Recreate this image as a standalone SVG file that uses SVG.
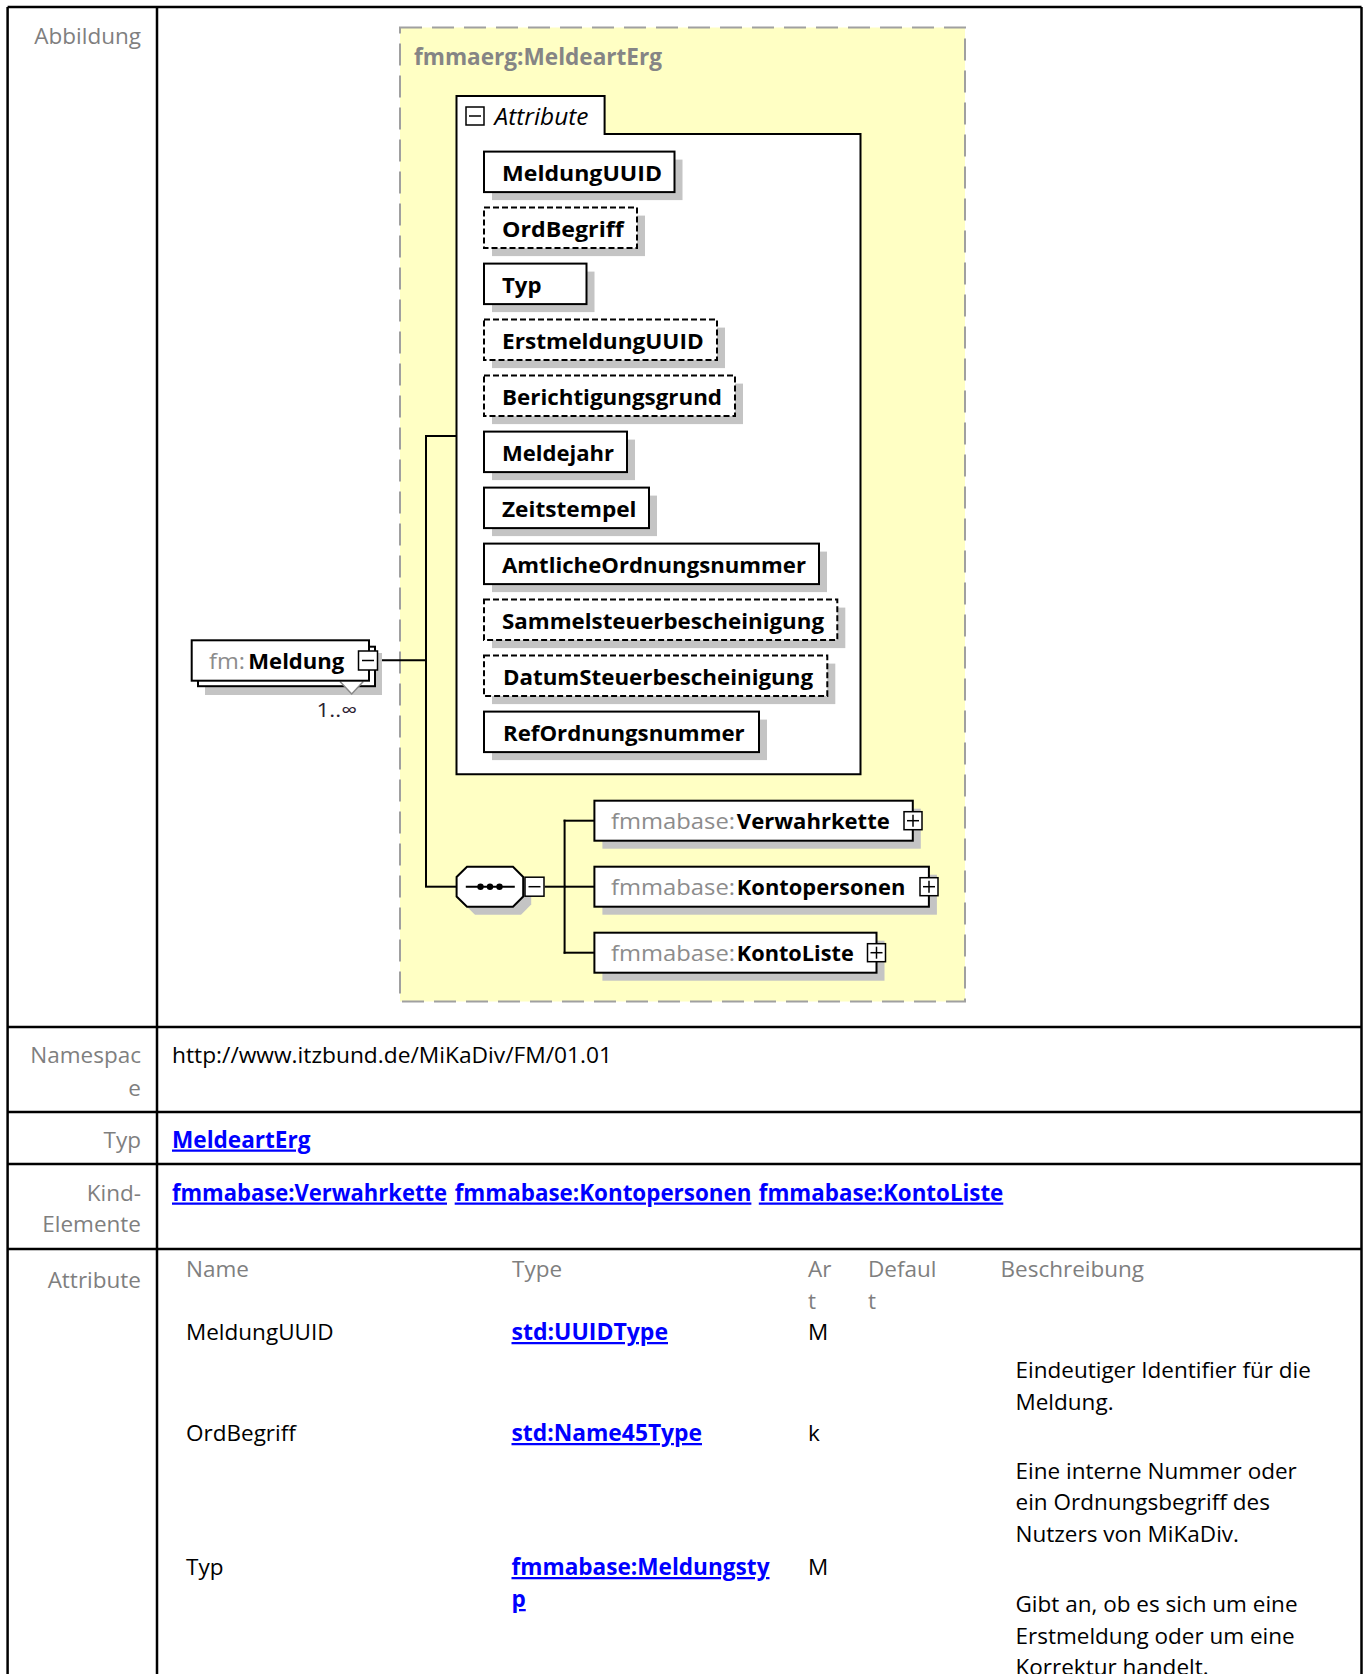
<svg xmlns="http://www.w3.org/2000/svg" width="1364" height="1674" viewBox="0 0 1364 1674">
<defs>
<style>
.bg{fill:#ffffff}
.tbl{stroke:#000;stroke-width:2.5;fill:none}
.lbl{font-family:"Open Sans","Liberation Sans",sans-serif;font-size:22.5px;fill:#7f7f7f;text-anchor:end}
.hdr{font-family:"Open Sans","Liberation Sans",sans-serif;font-size:22.5px;fill:#7f7f7f}
.val{font-family:"Open Sans","Liberation Sans",sans-serif;font-size:22.5px;fill:#000}
.lnk{font-family:"Open Sans","Liberation Sans",sans-serif;font-size:22.5px;font-weight:bold;fill:#0000ff;text-decoration:underline}
.cplx{fill:#ffffc4;stroke:#a0a0a0;stroke-width:2;stroke-dasharray:22 10}
.ttl{font-family:"Open Sans","Liberation Sans",sans-serif;font-size:22.5px;font-weight:bold;fill:#858585}
.shd{fill:#c4c4c4}
.box{fill:#fff;stroke:#000;stroke-width:2}
.opt{fill:#fff;stroke:#000;stroke-width:2;stroke-dasharray:6 3}
.nm{font-family:"Open Sans","Liberation Sans",sans-serif;font-size:22px;font-weight:bold;fill:#000}
.ns{font-family:"Open Sans","Liberation Sans",sans-serif;font-size:22px;fill:#8c8c8c}
.ico{fill:#fff;stroke:#000;stroke-width:1.5}
.icl{stroke:#000;stroke-width:1.5}
.con{stroke:#000;stroke-width:2;fill:none}
</style>
</defs>
<rect class="bg" x="0" y="0" width="1364" height="1674"/>

<g id="table">
<line class="tbl" x1="7.6" y1="7" x2="1361.5" y2="7"/>
<line class="tbl" x1="7.6" y1="1027" x2="1361.5" y2="1027"/>
<line class="tbl" x1="7.6" y1="1112" x2="1361.5" y2="1112"/>
<line class="tbl" x1="7.6" y1="1164" x2="1361.5" y2="1164"/>
<line class="tbl" x1="7.6" y1="1249" x2="1361.5" y2="1249"/>
<line class="tbl" x1="7.6" y1="7" x2="7.6" y2="1674"/>
<line class="tbl" x1="157" y1="7" x2="157" y2="1674"/>
<line class="tbl" x1="1361.5" y1="7" x2="1361.5" y2="1674"/>
<text class="lbl" x="141" y="43.5">Abbildung</text>
<text class="lbl" x="141" y="1063">Namespac</text>
<text class="lbl" x="141" y="1095.5">e</text>
<text class="val" x="172" y="1063" textLength="440" lengthAdjust="spacingAndGlyphs">http://www.itzbund.de/MiKaDiv/FM/01.01</text>
<text class="lbl" x="141" y="1147.5">Typ</text>
<text class="lnk" x="172" y="1147.5" textLength="138.5" lengthAdjust="spacingAndGlyphs">MeldeartErg</text>
<text class="lbl" x="141" y="1200.5">Kind-</text>
<text class="lbl" x="141" y="1232">Elemente</text>
<text class="lnk" x="172" y="1200.5" textLength="275" lengthAdjust="spacingAndGlyphs">fmmabase:Verwahrkette</text>
<text class="lnk" x="454.7" y="1200.5" textLength="296.7" lengthAdjust="spacingAndGlyphs">fmmabase:Kontopersonen</text>
<text class="lnk" x="758.8" y="1200.5" textLength="244.5" lengthAdjust="spacingAndGlyphs">fmmabase:KontoListe</text>
<text class="lbl" x="141" y="1287.5">Attribute</text>
<text class="hdr" x="186" y="1277">Name</text>
<text class="hdr" x="512" y="1277">Type</text>
<text class="hdr" x="808" y="1277">Ar</text>
<text class="hdr" x="808" y="1308.5">t</text>
<text class="hdr" x="868" y="1277">Defaul</text>
<text class="hdr" x="868" y="1308.5">t</text>
<text class="hdr" x="1000.5" y="1277">Beschreibung</text>
<text class="val" x="186" y="1340">MeldungUUID</text>
<text class="lnk" x="511.5" y="1340" textLength="156.5" lengthAdjust="spacingAndGlyphs">std:UUIDType</text>
<text class="val" x="808" y="1340">M</text>
<text class="val" x="1015.5" y="1377.5">Eindeutiger Identifier für die</text>
<text class="val" x="1015.5" y="1409.5">Meldung.</text>
<text class="val" x="186" y="1441">OrdBegriff</text>
<text class="lnk" x="511.5" y="1441" textLength="190.5" lengthAdjust="spacingAndGlyphs">std:Name45Type</text>
<text class="val" x="808" y="1441">k</text>
<text class="val" x="1015.5" y="1478.5">Eine interne Nummer oder</text>
<text class="val" x="1015.5" y="1510">ein Ordnungsbegriff des</text>
<text class="val" x="1015.5" y="1542">Nutzers von MiKaDiv.</text>
<text class="val" x="186" y="1575">Typ</text>
<text class="lnk" x="511.5" y="1575" textLength="258" lengthAdjust="spacingAndGlyphs">fmmabase:Meldungsty</text>
<text class="lnk" x="511.5" y="1607">p</text>
<text class="val" x="808" y="1575">M</text>
<text class="val" x="1015.5" y="1612">Gibt an, ob es sich um eine</text>
<text class="val" x="1015.5" y="1644">Erstmeldung oder um eine</text>
<text class="val" x="1015.5" y="1675">Korrektur handelt.</text>
</g>

<g id="complexType">
<rect class="cplx" x="400" y="27.5" width="565" height="974"/>
<text class="ttl" x="414" y="65" textLength="248" lengthAdjust="spacingAndGlyphs">fmmaerg:MeldeartErg</text>
</g>

<g id="connectors">
<line class="con" x1="378" y1="660.3" x2="426" y2="660.3"/>
<line class="con" x1="426" y1="436" x2="426" y2="886.7"/>
<line class="con" x1="425" y1="436" x2="457" y2="436"/>
<line class="con" x1="425" y1="886.7" x2="457" y2="886.7"/>
<line class="con" x1="544.7" y1="886.7" x2="565.6" y2="886.7"/>
<line class="con" x1="564.6" y1="819.7" x2="564.6" y2="953.7"/>
<line class="con" x1="563.6" y1="820.7" x2="594.4" y2="820.7"/>
<line class="con" x1="563.6" y1="952.7" x2="594.4" y2="952.7"/>
<line class="con" x1="564.6" y1="886.7" x2="594.4" y2="886.7"/>
</g>

<g id="Meldung">
<rect class="shd" x="205" y="653" width="177" height="42"/>
<rect class="box" x="198" y="646.7" width="177" height="39.5"/>
<polyline points="340,681.5 351.7,694 363.3,681.5" fill="#fff" stroke="#888" stroke-width="1.5"/>
<rect class="box" x="191.7" y="640.3" width="177.3" height="40.4"/>
<text x="209" y="669.3"><tspan class="ns" textLength="36" lengthAdjust="spacingAndGlyphs">fm:</tspan><tspan class="nm" x="248.3" textLength="96" lengthAdjust="spacingAndGlyphs">Meldung</tspan></text>
<rect class="ico" x="358.5" y="651" width="19" height="19"/>
<line class="icl" x1="362" y1="660.5" x2="374" y2="660.5"/>
<text x="316.5" y="716.5" font-family="Open Sans, Liberation Sans, sans-serif" font-size="20" fill="#2a2030" textLength="40.5" lengthAdjust="spacingAndGlyphs">1..∞</text>
</g>

<g id="Attribute">
<path d="M456.5,134 V96 H604.6 V134 H860.5 V774.3 H456.5 Z" fill="#fff" stroke="#000" stroke-width="2"/>
<rect class="ico" x="466" y="107" width="18" height="18"/>
<line class="icl" x1="469" y1="116" x2="481" y2="116"/>
<text x="494.5" y="125" font-family="Open Sans, Liberation Sans, sans-serif" font-size="23" font-style="italic" fill="#000" textLength="94" lengthAdjust="spacingAndGlyphs">Attribute</text>
</g>

<g id="attr-MeldungUUID">
<rect class="shd" x="492" y="159.6" width="190.5" height="40.5"/>
<rect class="box" x="484" y="151.6" width="190.5" height="40.5"/>
<text class="nm" x="502" y="180.6" textLength="160" lengthAdjust="spacingAndGlyphs">MeldungUUID</text>
</g>
<g id="attr-OrdBegriff">
<rect class="shd" x="492" y="215.6" width="153" height="40.5"/>
<rect class="opt" x="484" y="207.6" width="153" height="40.5"/>
<text class="nm" x="502" y="236.6" textLength="121.7" lengthAdjust="spacingAndGlyphs">OrdBegriff</text>
</g>
<g id="attr-Typ">
<rect class="shd" x="492" y="271.6" width="102.5" height="40.5"/>
<rect class="box" x="484" y="263.6" width="102.5" height="40.5"/>
<text class="nm" x="502" y="292.6" textLength="39.5" lengthAdjust="spacingAndGlyphs">Typ</text>
</g>
<g id="attr-ErstmeldungUUID">
<rect class="shd" x="492" y="327.6" width="233" height="40.5"/>
<rect class="opt" x="484" y="319.6" width="233" height="40.5"/>
<text class="nm" x="502" y="348.6" textLength="201.7" lengthAdjust="spacingAndGlyphs">ErstmeldungUUID</text>
</g>
<g id="attr-Berichtigungsgrund">
<rect class="shd" x="492" y="383.6" width="251" height="40.5"/>
<rect class="opt" x="484" y="375.6" width="251" height="40.5"/>
<text class="nm" x="502" y="404.6" textLength="220" lengthAdjust="spacingAndGlyphs">Berichtigungsgrund</text>
</g>
<g id="attr-Meldejahr">
<rect class="shd" x="492" y="439.6" width="143" height="40.5"/>
<rect class="box" x="484" y="431.6" width="143" height="40.5"/>
<text class="nm" x="502" y="460.6" textLength="112" lengthAdjust="spacingAndGlyphs">Meldejahr</text>
</g>
<g id="attr-Zeitstempel">
<rect class="shd" x="492" y="495.6" width="165" height="40.5"/>
<rect class="box" x="484" y="487.6" width="165" height="40.5"/>
<text class="nm" x="502" y="516.6" textLength="134.5" lengthAdjust="spacingAndGlyphs">Zeitstempel</text>
</g>
<g id="attr-AmtlicheOrdnungsnummer">
<rect class="shd" x="492" y="551.6" width="335" height="40.5"/>
<rect class="box" x="484" y="543.6" width="335" height="40.5"/>
<text class="nm" x="502" y="572.6" textLength="304" lengthAdjust="spacingAndGlyphs">AmtlicheOrdnungsnummer</text>
</g>
<g id="attr-Sammelsteuerbescheinigung">
<rect class="shd" x="492" y="607.6" width="353.3" height="40.5"/>
<rect class="opt" x="484" y="599.6" width="353.3" height="40.5"/>
<text class="nm" x="502" y="628.6" textLength="322" lengthAdjust="spacingAndGlyphs">Sammelsteuerbescheinigung</text>
</g>
<g id="attr-DatumSteuerbescheinigung">
<rect class="shd" x="492" y="663.6" width="343.3" height="40.5"/>
<rect class="opt" x="484" y="655.6" width="343.3" height="40.5"/>
<text class="nm" x="503" y="684.6" textLength="310" lengthAdjust="spacingAndGlyphs">DatumSteuerbescheinigung</text>
</g>
<g id="attr-RefOrdnungsnummer">
<rect class="shd" x="492" y="719.6" width="275" height="40.5"/>
<rect class="box" x="484" y="711.6" width="275" height="40.5"/>
<text class="nm" x="503" y="740.6" textLength="241.7" lengthAdjust="spacingAndGlyphs">RefOrdnungsnummer</text>
</g>

<g id="sequence">
<polygon class="shd" points="475,874.7 521,874.7 531.2,885 531.2,904.5 521,914.7 475,914.7 464.6,904.5 464.6,885"/>
<polygon class="box" points="467,866.7 513,866.7 523.2,877 523.2,896.5 513,906.7 467,906.7 456.6,896.5 456.6,877"/>
<line class="con" x1="465.8" y1="886.7" x2="514.8" y2="886.7"/>
<circle cx="480.5" cy="886.7" r="3.2" fill="#000"/>
<circle cx="490" cy="886.7" r="3.2" fill="#000"/>
<circle cx="499.5" cy="886.7" r="3.2" fill="#000"/>
<rect class="ico" x="525" y="877.2" width="19" height="19"/>
<line class="icl" x1="528.5" y1="886.7" x2="540.5" y2="886.7"/>
</g>

<g id="Verwahrkette">
<rect class="shd" x="602.4" y="808.7" width="318.4" height="40"/>
<rect class="box" x="594.4" y="800.7" width="318.4" height="40"/>
<text x="611" y="829.3"><tspan class="ns" textLength="124" lengthAdjust="spacingAndGlyphs">fmmabase:</tspan><tspan class="nm" x="736.8" textLength="153" lengthAdjust="spacingAndGlyphs">Verwahrkette</tspan></text>
<rect class="ico" x="904" y="811.7" width="18" height="18"/>
<line class="icl" x1="907" y1="820.7" x2="919" y2="820.7"/>
<line class="icl" x1="913" y1="814.7" x2="913" y2="826.7"/>
</g>
<g id="Kontopersonen">
<rect class="shd" x="602.4" y="874.7" width="334.5" height="40"/>
<rect class="box" x="594.4" y="866.7" width="334.5" height="40"/>
<text x="611" y="895.3"><tspan class="ns" textLength="124" lengthAdjust="spacingAndGlyphs">fmmabase:</tspan><tspan class="nm" x="736.8" textLength="168.5" lengthAdjust="spacingAndGlyphs">Kontopersonen</tspan></text>
<rect class="ico" x="920" y="877.7" width="18" height="18"/>
<line class="icl" x1="923" y1="886.7" x2="935" y2="886.7"/>
<line class="icl" x1="929" y1="880.7" x2="929" y2="892.7"/>
</g>
<g id="KontoListe">
<rect class="shd" x="602.4" y="940.7" width="282.1" height="40"/>
<rect class="box" x="594.4" y="932.7" width="282.1" height="40"/>
<text x="611" y="961.3"><tspan class="ns" textLength="124" lengthAdjust="spacingAndGlyphs">fmmabase:</tspan><tspan class="nm" x="736.8" textLength="117" lengthAdjust="spacingAndGlyphs">KontoListe</tspan></text>
<rect class="ico" x="867.5" y="943.7" width="18" height="18"/>
<line class="icl" x1="870.5" y1="952.7" x2="882.5" y2="952.7"/>
<line class="icl" x1="876.5" y1="946.7" x2="876.5" y2="958.7"/>
</g>
</svg>
